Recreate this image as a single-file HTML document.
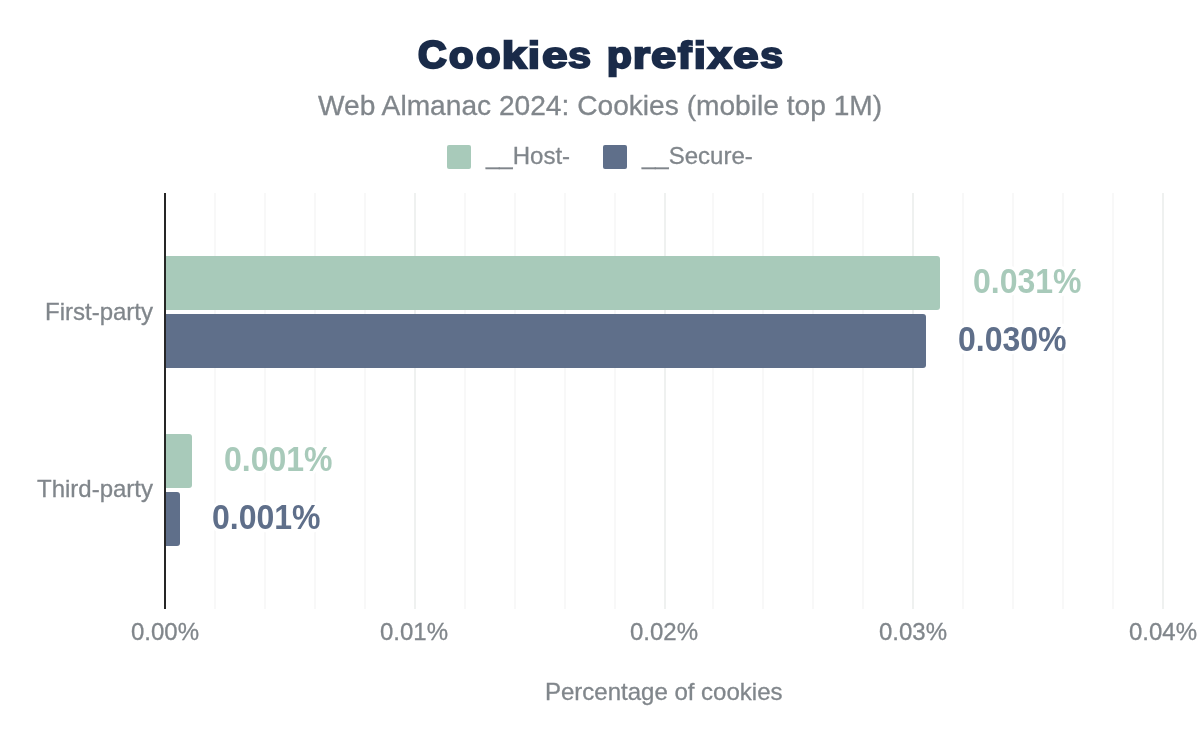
<!DOCTYPE html>
<html>
<head>
<meta charset="utf-8">
<title>Cookies prefixes</title>
<style>
  html, body { margin: 0; padding: 0; background: #ffffff; }
  body { width: 1200px; height: 742px; position: relative; overflow: hidden;
         font-family: "Liberation Sans", sans-serif; }
  .t { position: absolute; white-space: nowrap; line-height: 1; margin: 0; will-change: transform; }
  .grey { color: #80868b; -webkit-text-stroke: 0.3px #80868b; }
  .grid { position: absolute; top: 193px; height: 416px; width: 2px; background: #f8f8f8; }
  .grid.major { background: #eff1f0; }
  .bar { position: absolute; height: 54px; border-radius: 0 3px 3px 0; }
  .green { background: #a8caba; }
  .blue { background: #5f6f8a; }
  .sw { position: absolute; width: 24px; height: 24px; border-radius: 2px; top: 145px; }
  .val { font-weight: bold; font-size: 32px; transform-origin: 0 27px; transform: scaleY(1.08); -webkit-text-stroke: 6px #ffffff; paint-order: stroke fill; }
  .lbl { font-size: 24px; }
  .ttl.thin { -webkit-text-stroke:1.9px #1a2b49; text-shadow:0.3px 0 0 #1a2b49, -0.3px 0 0 #1a2b49; }
  .ttl { position:absolute; white-space:nowrap; line-height:1; top:36px; font-size:38px; font-weight:bold; color:#1a2b49; transform-origin:0 32.03px; -webkit-text-stroke:2.4px #1a2b49; }
</style>
</head>
<body>

<!-- Title -->
<div id="title" role="heading" aria-label="Cookies prefixes" style="position:absolute; left:0; top:0; width:1200px; height:90px; will-change:transform;">
<div class="ttl" style="left:418px; transform:scale(1.040,1.035);">C</div>
<div class="ttl" style="left:449px; transform:scale(1.052,0.965);">o</div>
<div class="ttl" style="left:476px; transform:scale(1.052,0.965);">o</div>
<div class="ttl" style="left:502px; transform:scale(1.148,0.965);">k</div>
<div class="ttl" style="left:528px; transform:scale(1.116,0.965);">i</div>
<div class="ttl thin" style="left:542px; transform:scale(1.216,0.955);">e</div>
<div class="ttl thin" style="left:568px; transform:scale(1.095,0.955);">s</div>
<div class="ttl" style="left:607px; transform:scale(1.065,0.965);">p</div>
<div class="ttl" style="left:633px; transform:scale(1.149,0.965);">r</div>
<div class="ttl thin" style="left:651px; transform:scale(1.195,0.955);">e</div>
<div class="ttl" style="left:678px; transform:scale(1.065,0.965);">f</div>
<div class="ttl" style="left:694px; transform:scale(1.099,0.965);">i</div>
<div class="ttl" style="left:708px; transform:scale(1.105,0.965);">x</div>
<div class="ttl thin" style="left:733px; transform:scale(1.216,0.955);">e</div>
<div class="ttl thin" style="left:760px; transform:scale(1.097,0.955);">s</div>
</div>

<svg style="position:absolute; left:0; top:0;" width="1200" height="90"><rect x="529.4" y="45.6" width="10.2" height="2.5" fill="#ffffff"/><rect x="694.6" y="45.6" width="10" height="2.5" fill="#ffffff"/></svg>

<!-- Subtitle -->
<div class="t grey" id="subtitle" style="left:318px; top:92px; font-size:28.15px;">Web Almanac 2024: Cookies (mobile top 1M)</div>

<!-- Legend -->
<div class="sw green" style="left:447px;"></div>
<div class="t grey lbl" id="leg1" style="left:486px; top:144px;">__Host-</div>
<div class="sw blue" style="left:603px;"></div>
<div class="t grey lbl" id="leg2" style="left:642px; top:144px;">__Secure-</div>

<!-- Gridlines -->
<div class="grid" style="left:214px;"></div>
<div class="grid" style="left:264px;"></div>
<div class="grid" style="left:314px;"></div>
<div class="grid" style="left:364px;"></div>
<div class="grid major" style="left:414px;"></div>
<div class="grid" style="left:464px;"></div>
<div class="grid" style="left:514px;"></div>
<div class="grid" style="left:564px;"></div>
<div class="grid" style="left:614px;"></div>
<div class="grid major" style="left:664px;"></div>
<div class="grid" style="left:712px;"></div>
<div class="grid" style="left:762px;"></div>
<div class="grid" style="left:812px;"></div>
<div class="grid" style="left:862px;"></div>
<div class="grid major" style="left:912px;"></div>
<div class="grid" style="left:962px;"></div>
<div class="grid" style="left:1012px;"></div>
<div class="grid" style="left:1062px;"></div>
<div class="grid" style="left:1112px;"></div>
<div class="grid major" style="left:1162px;"></div>

<!-- Bars -->
<div class="bar green" style="left:165px; top:256px; width:775px;"></div>
<div class="bar blue"  style="left:165px; top:314px; width:761px;"></div>
<div class="bar green" style="left:165px; top:434px; width:27px;"></div>
<div class="bar blue"  style="left:165px; top:492px; width:15px;"></div>

<!-- Axis line -->
<div style="position:absolute; left:164px; top:193px; width:2px; height:416px; background:#262626;"></div>

<!-- Value labels -->
<div class="t val" id="v1" style="left:973px; top:266px; color:#a8caba;">0.031%</div>
<div class="t val" id="v2" style="left:958px; top:324px; color:#5f6f8a;">0.030%</div>
<div class="t val" id="v3" style="left:224px; top:444px; color:#a8caba;">0.001%</div>
<div class="t val" id="v4" style="left:212px; top:502px; color:#5f6f8a;">0.001%</div>

<!-- Y labels -->
<div class="t grey lbl" id="y1" style="left:45px; top:300px;">First-party</div>
<div class="t grey lbl" id="y2" style="left:37px; top:477px;">Third-party</div>

<!-- X tick labels -->
<div class="t grey lbl xt" id="x0" style="left:131px; top:620px;">0.00%</div>
<div class="t grey lbl xt" id="x1" style="left:380px; top:620px;">0.01%</div>
<div class="t grey lbl xt" id="x2" style="left:630px; top:620px;">0.02%</div>
<div class="t grey lbl xt" id="x3" style="left:879px; top:620px;">0.03%</div>
<div class="t grey lbl xt" id="x4" style="left:1129px; top:620px;">0.04%</div>

<!-- X axis title -->
<div class="t grey lbl" id="xtitle" style="left:545px; top:680px;">Percentage of cookies</div>

</body>
</html>
